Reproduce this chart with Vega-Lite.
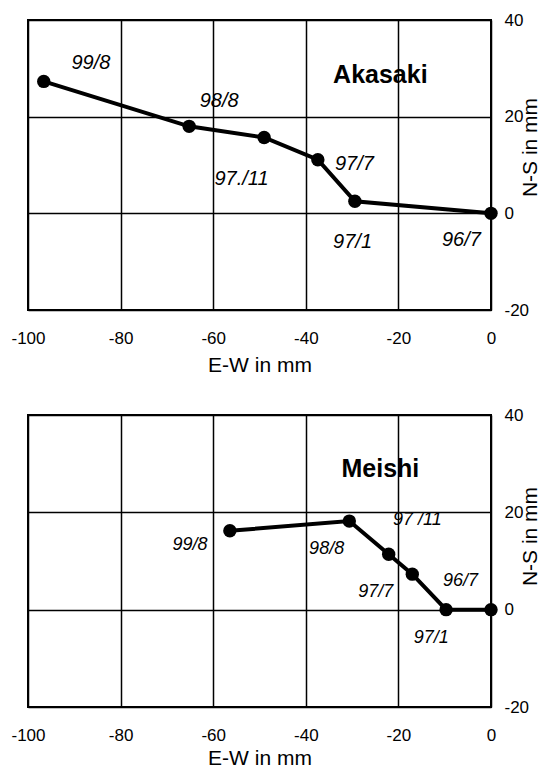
{
  "$schema": "https://vega.github.io/schema/vega-lite/v6.json",
  "background": "white",
  "padding": {"left": 9, "top": 10, "right": 0, "bottom": 0},
  "spacing": 29,
  "config": {
    "font": "Liberation Sans",
    "view": {"stroke": "black", "strokeWidth": 2},
    "axis": {
      "grid": true, "gridColor": "black", "gridWidth": 1.5, "gridOpacity": 1,
      "domain": false, "ticks": false, "tickSize": 0,
      "labelFont": "Liberation Sans", "labelFontSize": 17, "labelColor": "black",
      "titleFont": "Liberation Sans", "titleFontSize": 21, "titleFontWeight": "normal", "titleColor": "black",
      "labelFlush": false, "labelOverlap": false,
      "labelExpr": "'' + datum.value"
    }
  },
  "datasets": {
    "akaPts": [
      {"date": "96/7", "x": 0, "y": 0, "order": 1},
      {"date": "97/1", "x": -29.4, "y": 2.5, "order": 2},
      {"date": "97/7", "x": -37.4, "y": 11.1, "order": 3},
      {"date": "97/11", "x": -49.0, "y": 15.7, "order": 4},
      {"date": "98/8", "x": -65.2, "y": 18.0, "order": 5},
      {"date": "99/8", "x": -96.6, "y": 27.3, "order": 6}
    ],
    "akaLbl": [
      {"label": "99/8", "x": -86.4, "y": 31.2},
      {"label": "98/8", "x": -58.7, "y": 23.3},
      {"label": "97./11", "x": -53.9, "y": 7.2},
      {"label": "97/7", "x": -29.5, "y": 10.3},
      {"label": "97/1", "x": -29.9, "y": -6.0},
      {"label": "96/7", "x": -6.4, "y": -5.6}
    ],
    "meiPts": [
      {"date": "96/7", "x": 0, "y": 0, "order": 1},
      {"date": "97/1", "x": -9.7, "y": 0, "order": 2},
      {"date": "97/7", "x": -17.0, "y": 7.3, "order": 3},
      {"date": "97/11", "x": -22.1, "y": 11.4, "order": 4},
      {"date": "98/8", "x": -30.6, "y": 18.2, "order": 5},
      {"date": "99/8", "x": -56.4, "y": 16.2, "order": 6}
    ],
    "meiLbl": [
      {"label": "99/8", "x": -65.0, "y": 13.3},
      {"label": "98/8", "x": -35.5, "y": 12.5},
      {"label": "97 /11", "x": -15.9, "y": 18.4},
      {"label": "97/7", "x": -24.9, "y": 3.7},
      {"label": "96/7", "x": -6.6, "y": 5.9},
      {"label": "97/1", "x": -12.9, "y": -5.8}
    ],
    "sites": [
      {"site": "Akasaki", "x": -23.9, "y": 28.7},
      {"site": "Meishi", "x": -23.9, "y": 29.0}
    ]
  },
  "vconcat": [
    {
      "width": 463, "height": 290,
      "layer": [
        {
          "data": {"name": "akaPts"},
          "mark": {"type": "line", "color": "black", "strokeWidth": 4},
          "encoding": {
            "x": {"field": "x", "type": "quantitative", "scale": {"domain": [-100, 0], "nice": false, "zero": false},
                  "axis": {"title": "E-W in mm", "values": [-100, -80, -60, -40, -20, 0], "labelPadding": 20, "titlePadding": 8}},
            "y": {"field": "y", "type": "quantitative", "scale": {"domain": [-20, 40], "nice": false, "zero": false},
                  "axis": {"title": "N-S in mm", "orient": "right", "values": [-20, 0, 20, 40], "labelPadding": 13, "labelBaseline": "middle",
                           "titleAngle": 270, "titleX": 39, "titleY": 127, "titleAlign": "center", "titleBaseline": "middle"}},
            "order": {"field": "order", "type": "quantitative"}
          }
        },
        {
          "data": {"name": "akaPts"},
          "mark": {"type": "circle", "color": "black", "size": 180, "opacity": 1},
          "encoding": {
            "x": {"field": "x", "type": "quantitative"},
            "y": {"field": "y", "type": "quantitative"}
          }
        },
        {
          "data": {"name": "akaLbl"},
          "mark": {"type": "text", "fontSize": 20, "fontStyle": "italic", "color": "black", "align": "center", "baseline": "middle"},
          "encoding": {
            "x": {"field": "x", "type": "quantitative"},
            "y": {"field": "y", "type": "quantitative"},
            "text": {"field": "label"}
          }
        },
        {
          "data": {"name": "sites"},
          "transform": [{"filter": "datum.site === 'Akasaki'"}],
          "mark": {"type": "text", "fontSize": 25, "fontWeight": "bold", "color": "black", "align": "center", "baseline": "middle"},
          "encoding": {
            "x": {"field": "x", "type": "quantitative"},
            "y": {"field": "y", "type": "quantitative"},
            "text": {"field": "site"}
          }
        }
      ]
    },
    {
      "width": 463, "height": 292,
      "layer": [
        {
          "data": {"name": "meiPts"},
          "mark": {"type": "line", "color": "black", "strokeWidth": 4},
          "encoding": {
            "x": {"field": "x", "type": "quantitative", "scale": {"domain": [-100, 0], "nice": false, "zero": false},
                  "axis": {"title": "E-W in mm", "values": [-100, -80, -60, -40, -20, 0], "labelPadding": 20, "titlePadding": 4}},
            "y": {"field": "y", "type": "quantitative", "scale": {"domain": [-20, 40], "nice": false, "zero": false},
                  "axis": {"title": "N-S in mm", "orient": "right", "values": [-20, 0, 20, 40], "labelPadding": 13, "labelBaseline": "middle",
                           "titleAngle": 270, "titleX": 39, "titleY": 121, "titleAlign": "center", "titleBaseline": "middle"}},
            "order": {"field": "order", "type": "quantitative"}
          }
        },
        {
          "data": {"name": "meiPts"},
          "mark": {"type": "circle", "color": "black", "size": 180, "opacity": 1},
          "encoding": {
            "x": {"field": "x", "type": "quantitative"},
            "y": {"field": "y", "type": "quantitative"}
          }
        },
        {
          "data": {"name": "meiLbl"},
          "mark": {"type": "text", "fontSize": 18, "fontStyle": "italic", "color": "black", "align": "center", "baseline": "middle"},
          "encoding": {
            "x": {"field": "x", "type": "quantitative"},
            "y": {"field": "y", "type": "quantitative"},
            "text": {"field": "label"}
          }
        },
        {
          "data": {"name": "sites"},
          "transform": [{"filter": "datum.site === 'Meishi'"}],
          "mark": {"type": "text", "fontSize": 25, "fontWeight": "bold", "color": "black", "align": "center", "baseline": "middle"},
          "encoding": {
            "x": {"field": "x", "type": "quantitative"},
            "y": {"field": "y", "type": "quantitative"},
            "text": {"field": "site"}
          }
        }
      ]
    }
  ]
}
